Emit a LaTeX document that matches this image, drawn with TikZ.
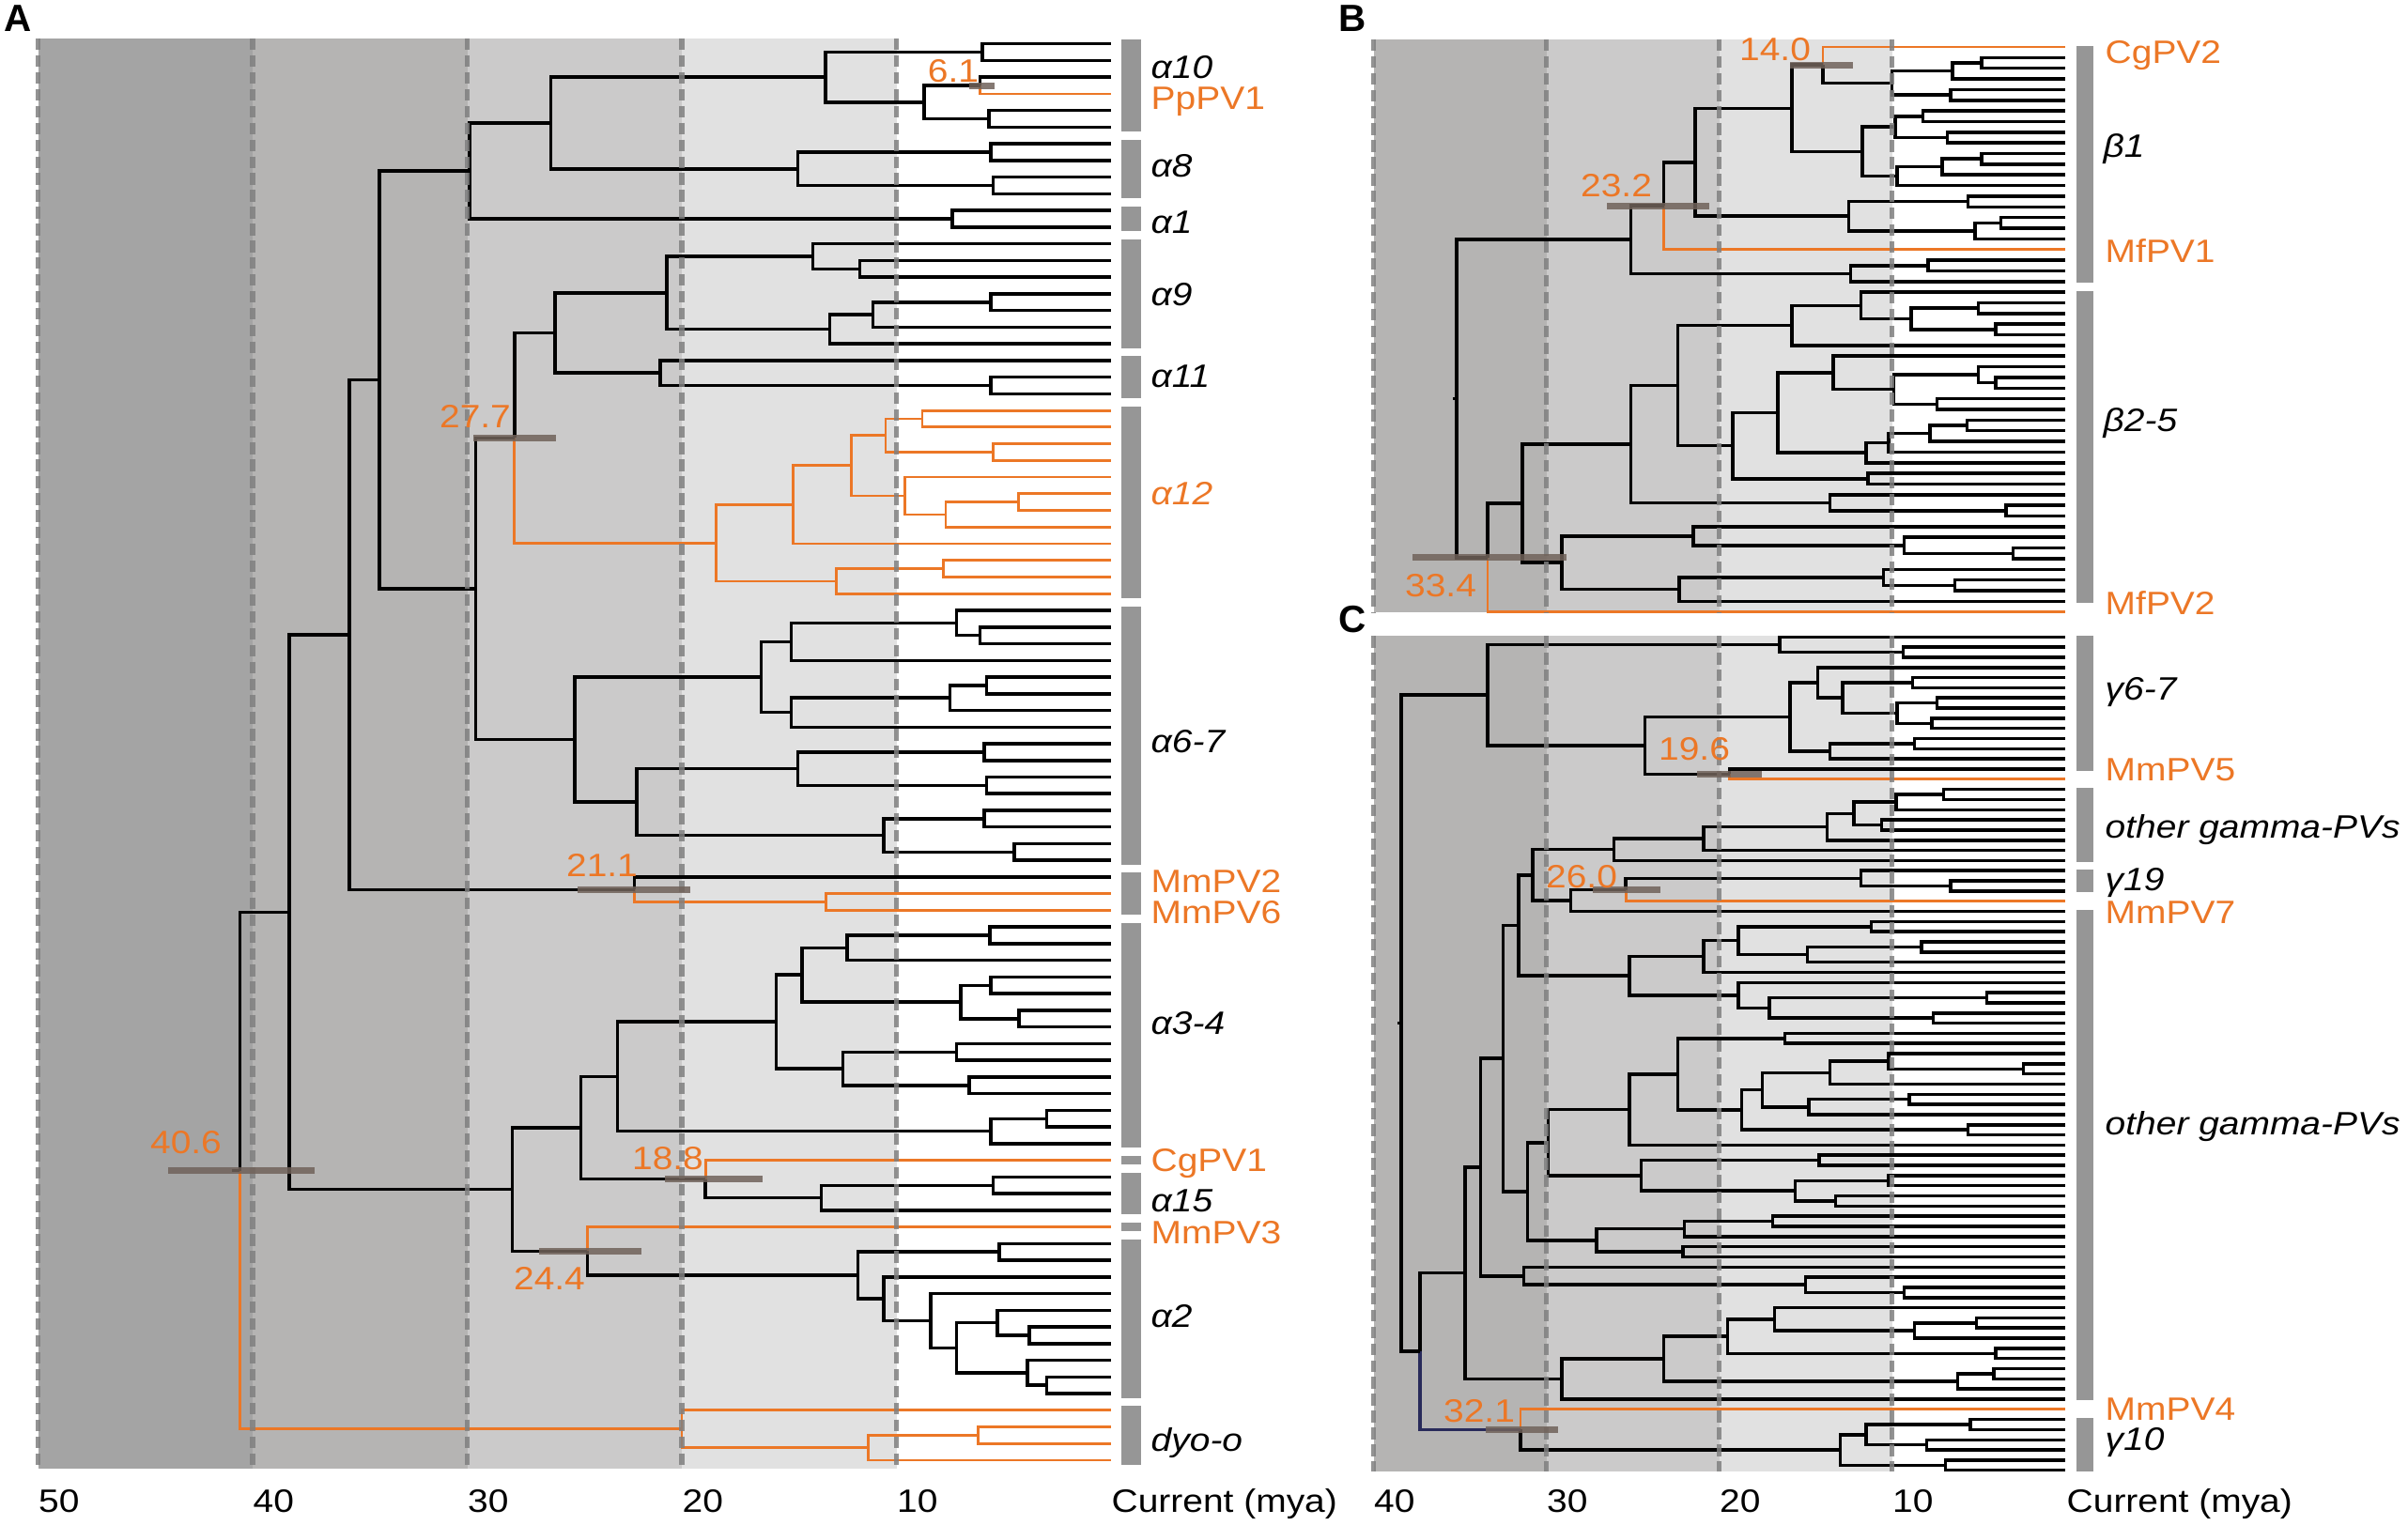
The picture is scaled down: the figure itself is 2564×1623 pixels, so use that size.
\documentclass[tikz,border=0pt]{standalone}
\usepackage{fontspec}
\setmainfont{Liberation Sans}[FakeStretch=1.13]
\newfontfamily\letterfont{Liberation Sans}
\usetikzlibrary{calc}

\definecolor{pvorange}{RGB}{236,119,38}
\definecolor{bandA}{RGB}{164,164,164}
\definecolor{bandB}{RGB}{181,180,179}
\definecolor{bandC}{RGB}{203,202,202}
\definecolor{bandD}{RGB}{225,225,225}
\definecolor{cladegray}{RGB}{150,150,150}
\definecolor{hpdbrown}{RGB}{112,98,90}
\definecolor{decadegray}{RGB}{128,128,128}
\definecolor{navyline}{RGB}{40,42,90}

% x position of an age (mya) in the current panel
\newcommand\agex[1]{\xz-#1*\xs}
% a leaf: name, row
\newcommand\lf[2]{\coordinate (#1) at (\xz,{\yz+#2*\ys});}
% an inner node: [style up][style down]{name}{age}{child up}{child down}
\NewDocumentCommand\nd{O{blk}O{blk}mmmm}{%
  \coordinate (#3m) at ($(#5)!.5!(#6)$);
  \coordinate (#3) at ({\agex{#4}},0 |- #3m);
  \draw[#1] (#3) |- (#5);
  \draw[#2] (#3) |- (#6);}
% grey clade bar over rows #1..#2
\newcommand\cbar[2]{\fill[cladegray] (\bx,{\yz+#1*\ys-\bp}) rectangle ({\bx+\bw},{\yz+#2*\ys+\bp});}

\begin{document}
\begin{tikzpicture}[x=0.01cm,y=-0.01cm]
  \tikzstyle{blk}=[line width=1pt,black]
  \tikzstyle{pvo}=[line width=0.8pt,pvorange]
  \tikzstyle{navyb}=[line width=1pt,navyline]
  \tikzstyle{decade}=[line width=1.6pt,decadegray,opacity=0.85,dash pattern=on 3.5pt off 1.6pt]
  \tikzstyle{hpd}=[line width=2pt,hpdbrown,opacity=0.85]
  \tikzstyle{lab}=[anchor=west,inner sep=0pt,text height=7pt,text depth=0pt,font=\fontsize{9.8}{11.5}\selectfont]
  \tikzstyle{clade}=[lab,font=\fontsize{9.8}{11.5}\selectfont\itshape]
  \tikzstyle{pv}=[lab,text=pvorange]
  \tikzstyle{age}=[inner sep=0pt,text height=7pt,text depth=0pt,text=pvorange,font=\fontsize{9.8}{11.5}\selectfont]
  \tikzstyle{panel}=[inner sep=0pt,font=\letterfont\fontsize{11.5}{13}\selectfont\bfseries]

  \useasboundingbox (0,0) rectangle (2564,1623);

  %%%%%%%%%%%%%%%%%%%% Panel A (alpha) %%%%%%%%%%%%%%%%%%%%
  \def\xz{1183}\def\xs{22.85}\def\yz{46.7}\def\ys{17.745}

  % Time bands
  \foreach \a/\b/\c in {50/40/bandA,40/30/bandB,30/20/bandC,20/10/bandD}
      \fill[\c] ({\agex{\a}},41) rectangle ({\agex{\b}},1564);

  % Leaves
  \foreach \i in {0,...,85}{\lf{a\i}{\i}}

  % alpha10, alpha8, alpha1
  \nd{ap01}{6.0}{a0}{a1}
  \nd[blk][pvo]{ap23}{6.1}{a2}{a3}
  \nd{ap45}{5.7}{a4}{a5}
  \nd{a2to5}{8.7}{ap23}{ap45}
  \nd{aA10}{13.3}{ap01}{a2to5}
  \nd{ap67}{5.6}{a6}{a7}
  \nd{ap89}{5.5}{a8}{a9}
  \nd{aA8}{14.6}{ap67}{ap89}
  \nd{aA108}{26.1}{aA10}{aA8}
  \nd{aA1}{7.4}{a10}{a11}
  \nd{aT1}{29.9}{aA108}{aA1}

  % alpha9, alpha11
  \nd{ap1314}{11.7}{a13}{a14}
  \nd{a12to14}{13.9}{a12}{ap1314}
  \nd{ap1516}{5.6}{a15}{a16}
  \nd{a15to17}{11.1}{ap1516}{a17}
  \nd{a15to18}{13.1}{a15to17}{a18}
  \nd{aA9}{20.7}{a12to14}{a15to18}
  \nd{ap2021}{5.6}{a20}{a21}
  \nd{aA11}{21.0}{a19}{ap2021}
  \nd{aA911}{25.9}{aA9}{aA11}

  % alpha12
  \nd[pvo][pvo]{ap2223}{8.8}{a22}{a23}
  \nd[pvo][pvo]{ap2425}{5.5}{a24}{a25}
  \nd[pvo][pvo]{a22to25}{10.5}{ap2223}{ap2425}
  \nd[pvo][pvo]{ap2728}{4.3}{a27}{a28}
  \nd[pvo][pvo]{a27to29}{7.7}{ap2728}{a29}
  \nd[pvo][pvo]{a26to29}{9.6}{a26}{a27to29}
  \nd[pvo][pvo]{a22to29}{12.1}{a22to25}{a26to29}
  \nd[pvo][pvo]{a22to30}{14.8}{a22to29}{a30}
  \nd[pvo][pvo]{ap3132}{7.8}{a31}{a32}
  \nd[pvo][pvo]{a31to33}{12.8}{ap3132}{a33}
  \nd[pvo][pvo]{aA12}{18.4}{a22to30}{a31to33}
  \nd[blk][pvo]{aN277}{27.8}{aA911}{aA12}

  % alpha6-7
  \nd{ap3536}{6.1}{a35}{a36}
  \nd{a34to36}{7.2}{a34}{ap3536}
  \nd{a34to37}{14.9}{a34to36}{a37}
  \nd{ap3839}{5.8}{a38}{a39}
  \nd{a38to40}{7.5}{ap3839}{a40}
  \nd{a38to41}{14.9}{a38to40}{a41}
  \nd{a34to41}{16.3}{a34to37}{a38to41}
  \nd{ap4243}{5.9}{a42}{a43}
  \nd{ap4445}{5.8}{a44}{a45}
  \nd{a42to45}{14.6}{ap4243}{ap4445}
  \nd{ap4647}{5.9}{a46}{a47}
  \nd{ap4849}{4.5}{a48}{a49}
  \nd{a46to49}{10.6}{ap4647}{ap4849}
  \nd{a42to49}{22.1}{a42to45}{a46to49}
  \nd{aA67}{25.0}{a34to41}{a42to49}
  \nd{aT2}{29.6}{aN277}{aA67}
  \nd{aT3}{34.1}{aT1}{aT2}

  % MmPV2, MmPV6
  \nd[pvo][pvo]{ap5152}{13.3}{a51}{a52}
  \nd[blk][pvo]{aN211}{22.2}{a50}{ap5152}
  \nd{aT4}{35.5}{aT3}{aN211}

  % alpha3-4
  \nd{ap5354}{5.65}{a53}{a54}
  \nd{a53to55}{12.3}{ap5354}{a55}
  \nd{ap5657}{5.6}{a56}{a57}
  \nd{ap5859}{4.3}{a58}{a59}
  \nd{a56to59}{7.0}{ap5657}{ap5859}
  \nd{a53to59}{14.4}{a53to55}{a56to59}
  \nd{ap6061}{7.2}{a60}{a61}
  \nd{ap6263}{6.6}{a62}{a63}
  \nd{a60to63}{12.5}{ap6061}{ap6263}
  \nd{a53to63}{15.6}{a53to59}{a60to63}
  \nd{ap6465}{3.0}{a64}{a65}
  \nd{a64to66}{5.6}{ap6465}{a66}
  \nd{aA34}{23.0}{a53to63}{a64to66}

  % CgPV1, alpha15
  \nd{ap6869}{5.5}{a68}{a69}
  \nd{aA15}{13.5}{ap6869}{a70}
  \nd[pvo][blk]{aN188}{18.9}{a67}{aA15}
  \nd{aT5}{24.7}{aA34}{aN188}

  % MmPV3, alpha2
  \nd{ap7273}{5.2}{a72}{a73}
  \nd{ap7778}{3.8}{a77}{a78}
  \nd{a76to78}{5.3}{a76}{ap7778}
  \nd{ap8081}{3.0}{a80}{a81}
  \nd{a79to81}{3.9}{a79}{ap8081}
  \nd{a76to81}{7.2}{a76to78}{a79to81}
  \nd{a75to81}{8.4}{a75}{a76to81}
  \nd{a74to81}{10.6}{a74}{a75to81}
  \nd{aA2}{11.8}{ap7273}{a74to81}
  \nd[pvo][blk]{aN244}{24.4}{a71}{aA2}
  \nd{aT6}{27.9}{aT5}{aN244}
  \nd{aT7}{38.3}{aT4}{aT6}

  % dyo-o and the root
  \nd[pvo][pvo]{ap8384}{6.2}{a83}{a84}
  \nd[pvo][pvo]{a83to85}{11.3}{ap8384}{a85}
  \nd[pvo][pvo]{aDyo}{20.0}{a82}{a83to85}
  \nd[blk][pvo]{aRoot}{40.6}{aT7}{aDyo}
  \draw[blk] (aRoot) -- ++(-8,0);

  % Decade lines and axis
  \foreach \a in {50,40,30,20,10}{
      \draw[decade] ({\agex{\a}},41) -- ({\agex{\a}},1564);
      \node[lab] (A-t\a) at ({\agex{\a}},1598) {\a};
  }
  \node[lab] (A-now) at (\xz,1598) {Current (mya)};

  % Age intervals
  \draw[hpd] (1032,0 |- ap23) -- (1059,0 |- ap23);
  \draw[hpd] (504,0 |- aN277) -- (592,0 |- aN277);
  \draw[hpd] (615,0 |- aN211) -- (735,0 |- aN211);
  \draw[hpd] (708,0 |- aN188) -- (812,0 |- aN188);
  \draw[hpd] (574,0 |- aN244) -- (683,0 |- aN244);
  \draw[hpd] (179,0 |- aRoot) -- (335,0 |- aRoot);
  \node[age] (A-n61) at (1015,75) {6.1};
  \node[age] (A-n277) at (506,443) {27.7};
  \node[age] (A-n211) at (641,921) {21.1};
  \node[age] (A-n188) at (711,1233) {18.8};
  \node[age] (A-n244) at (585,1361) {24.4};
  \node[age] (A-n406) at (198,1216) {40.6};

  % Clade bars and names
  \def\bx{1194}\def\bw{21}\def\bp{4.5}
  \cbar{0}{5}\cbar{6}{9}\cbar{10}{11}\cbar{12}{18}\cbar{19}{21}\cbar{22}{33}
  \cbar{34}{49}\cbar{50}{52}\cbar{53}{66}\cbar{67}{67}\cbar{68}{70}\cbar{71}{71}
  \cbar{72}{81}\cbar{82}{85}
  \node[clade] (A-a10) at (1225,71) {α10};
  \node[pv] (A-pp1) at (1225,104) {PpPV1};
  \node[clade] (A-a8) at (1225,176) {α8};
  \node[clade] (A-a1) at (1225,236) {α1};
  \node[clade] (A-a9) at (1225,313) {α9};
  \node[clade] (A-a11) at (1225,400) {α11};
  \node[clade,text=pvorange] (A-a12) at (1225,525) {α12};
  \node[clade] (A-a67) at (1225,789) {α6-7};
  \node[pv] (A-mm2) at (1225,938) {MmPV2};
  \node[pv] (A-mm6) at (1225,971) {MmPV6};
  \node[clade] (A-a34) at (1225,1089) {α3-4};
  \node[pv] (A-cg1) at (1225,1235) {CgPV1};
  \node[clade] (A-a15) at (1225,1278) {α15};
  \node[pv] (A-mm3) at (1225,1312) {MmPV3};
  \node[clade] (A-a2) at (1225,1401) {α2};
  \node[clade] (A-dyo) at (1225,1533) {dyo-o};
  \node[panel] (A-lab) at (19,20) {A};

  %%%%%%%%%%%%%%%%%%%% Panel B (beta) %%%%%%%%%%%%%%%%%%%%
  \def\xz{2198.5}\def\xs{18.4}\def\yz{50}\def\ys{11.353}

  \foreach \a/\b/\c in {40/30/bandB,30/20/bandC,20/10/bandD}
      \fill[\c] ({\agex{\a}},41.7) rectangle ({\agex{\b}},651.7);

  \foreach \i in {0,...,53}{\lf{b\i}{\i}}

  % beta1
  \nd{bp12}{4.8}{b1}{b2}
  \nd{b1to3}{6.5}{bp12}{b3}
  \nd{bp45}{6.6}{b4}{b5}
  \nd{b1to5}{10.0}{b1to3}{bp45}
  \nd[pvo][blk]{bN140}{14.0}{b0}{b1to5}
  \nd{bp67}{8.2}{b6}{b7}
  \nd{bp89}{6.8}{b8}{b9}
  \nd{b6to9}{9.8}{bp67}{bp89}
  \nd{bp1011}{4.8}{b10}{b11}
  \nd{b10to12}{7.1}{bp1011}{b12}
  \nd{b10to13}{9.7}{b10to12}{b13}
  \nd{b6to13}{11.7}{b6to9}{b10to13}
  \nd{b0to13}{15.8}{bN140}{b6to13}
  \nd{bp1415}{5.6}{b14}{b15}
  \nd{bp1617}{3.7}{b16}{b17}
  \nd{b16to18}{5.2}{bp1617}{b18}
  \nd{b14to18}{12.5}{bp1415}{b16to18}
  \nd{b0to18}{21.4}{b0to13}{b14to18}
  \nd[blk][pvo]{bN232}{23.2}{b0to18}{b19}
  \nd{bp2021}{7.9}{b20}{b21}
  \nd{b20to22}{12.4}{bp2021}{b22}
  \nd{bB1}{25.1}{bN232}{b20to22}

  % beta2-5
  \nd{bp2425}{5.0}{b24}{b25}
  \nd{bp2627}{4.0}{b26}{b27}
  \nd{b24to27}{8.9}{bp2425}{bp2627}
  \nd{b23to27}{11.8}{b23}{b24to27}
  \nd{b23to28}{15.8}{b23to27}{b28}
  \nd{bp3132}{4.0}{b31}{b32}
  \nd{b30to32}{5.0}{b30}{bp3132}
  \nd{bp3334}{7.4}{b33}{b34}
  \nd{b30to34}{9.9}{b30to32}{bp3334}
  \nd{b29to34}{13.4}{b29}{b30to34}
  \nd{bp3536}{5.65}{b35}{b36}
  \nd{b35to37}{7.8}{bp3536}{b37}
  \nd{b35to38}{10.2}{b35to37}{b38}
  \nd{b35to39}{11.5}{b35to38}{b39}
  \nd{b29to39}{16.6}{b29to34}{b35to39}
  \nd{bp4041}{11.4}{b40}{b41}
  \nd{b29to41}{19.2}{b29to39}{bp4041}
  \nd{b23to41}{22.4}{b23to28}{b29to41}
  \nd{bp4344}{3.4}{b43}{b44}
  \nd{b42to44}{13.6}{b42}{bp4344}
  \nd{b23to44}{25.1}{b23to41}{b42to44}
  \nd{bp4748}{3.0}{b47}{b48}
  \nd{b46to48}{9.3}{b46}{bp4748}
  \nd{b45to48}{21.5}{b45}{b46to48}
  \nd{bp5051}{6.35}{b50}{b51}
  \nd{b49to51}{10.5}{b49}{bp5051}
  \nd{b49to52}{22.3}{b49to51}{b52}
  \nd{b45to52}{29.1}{b45to48}{b49to52}
  \nd{bB25}{31.4}{b23to44}{b45to52}
  \nd[blk][pvo]{bN334}{33.4}{bB25}{b53}
  \nd{bRoot}{35.2}{bB1}{bN334}
  \draw[blk] (bRoot) -- ++(-4,0);

  \foreach \a in {40,30,20,10}
      \draw[decade] ({\agex{\a}},41.7) -- ({\agex{\a}},651.7);

  \draw[hpd] (1906,0 |- bN140) -- (1973,0 |- bN140);
  \draw[hpd] (1711,0 |- bN232) -- (1820,0 |- bN232);
  \draw[hpd] (1504,0 |- bN334) -- (1668,0 |- bN334);
  \node[age] (B-n140) at (1890,52) {14.0};
  \node[age] (B-n232) at (1721,197) {23.2};
  \node[age] (B-n334) at (1534,623) {33.4};

  \def\bx{2211}\def\bw{18}\def\bp{1.5}
  \cbar{0}{22}\cbar{23}{52}
  \node[pv] (B-cg2) at (2241,55) {CgPV2};
  \node[clade] (B-b1) at (2239,155) {β1};
  \node[pv] (B-mf1) at (2241,267) {MfPV1};
  \node[clade] (B-b25) at (2239,447) {β2-5};
  \node[pv] (B-mf2) at (2241,642) {MfPV2};
  \node[panel] (B-lab) at (1440,20) {B};

  %%%%%%%%%%%%%%%%%%%% Panel C (gamma) %%%%%%%%%%%%%%%%%%%%
  \def\yz{678.3}\def\ys{10.822}

  \foreach \a/\b/\c in {40/30/bandB,30/20/bandC,20/10/bandD}
      \fill[\c] ({\agex{\a}},677.3) rectangle ({\agex{\b}},1567);

  \foreach \i in {0,...,82}{\lf{c\i}{\i}}

  % gamma6-7 and MmPV5
  \nd{cp12}{9.35}{c1}{c2}
  \nd{c0to2}{16.5}{c0}{cp12}
  \nd{cp45}{8.8}{c4}{c5}
  \nd{cp67}{7.4}{c6}{c7}
  \nd{cp89}{7.7}{c8}{c9}
  \nd{c6to9}{9.7}{cp67}{cp89}
  \nd{c4to9}{12.85}{cp45}{c6to9}
  \nd{c3to9}{14.3}{c3}{c4to9}
  \nd{cp1011}{8.7}{c10}{c11}
  \nd{c10to12}{13.6}{cp1011}{c12}
  \nd{c3to12}{15.9}{c3to9}{c10to12}
  \nd[blk][pvo]{cN196}{19.4}{c13}{c14}
  \nd{c3to14}{24.3}{c3to12}{cN196}
  \nd{cG67}{33.4}{c0to2}{c3to14}

  % other gamma-PVs, gamma19, MmPV7
  \nd{cp1516}{7.0}{c15}{c16}
  \nd{c15to17}{9.75}{cp1516}{c17}
  \nd{cp1819}{10.6}{c18}{c19}
  \nd{c15to19}{12.2}{c15to17}{cp1819}
  \nd{c15to20}{13.75}{c15to19}{c20}
  \nd{c15to21}{20.9}{c15to20}{c21}
  \nd{c15to22}{26.1}{c15to21}{c22}
  \nd{cp2425}{6.6}{c24}{c25}
  \nd{cG19}{11.8}{c23}{cp2425}
  \nd[blk][pvo]{cN260}{25.4}{cG19}{c26}
  \nd{c23to27}{28.6}{cN260}{c27}
  \nd{c15to27}{30.8}{c15to22}{c23to27}
  \nd{cp2829}{11.2}{c28}{c29}
  \nd{cp3031}{8.3}{c30}{c31}
  \nd{c30to32}{14.9}{cp3031}{c32}
  \nd{c28to32}{18.9}{cp2829}{c30to32}
  \nd{c28to33}{20.9}{c28to32}{c33}
  \nd{cp3536}{4.5}{c35}{c36}
  \nd{cp3738}{7.6}{c37}{c38}
  \nd{c35to38}{17.1}{cp3536}{cp3738}
  \nd{c34to38}{18.9}{c34}{c35to38}
  \nd{c28to38}{25.2}{c28to33}{c34to38}
  \nd{c15to38}{31.6}{c15to27}{c28to38}
  \nd{cp3940}{16.2}{c39}{c40}
  \nd{cp4243}{2.4}{c42}{c43}
  \nd{c41to43}{10.2}{c41}{cp4243}
  \nd{c41to44}{13.6}{c41to43}{c44}
  \nd{cp4546}{9.0}{c45}{c46}
  \nd{c45to47}{14.8}{cp4546}{c47}
  \nd{c41to47}{17.5}{c41to44}{c45to47}
  \nd{cp4849}{5.6}{c48}{c49}
  \nd{c41to49}{18.7}{c41to47}{cp4849}
  \nd{c39to49}{22.4}{cp3940}{c41to49}
  \nd{c39to50}{25.2}{c39to49}{c50}
  \nd{cp5152}{14.2}{c51}{c52}
  \nd{cp5354}{10.2}{c53}{c54}
  \nd{cp5556}{13.25}{c55}{c56}
  \nd{c53to56}{15.6}{cp5354}{cp5556}
  \nd{c51to56}{24.5}{cp5152}{c53to56}
  \nd{c39to56}{29.9}{c39to50}{c51to56}
  \nd{cp5758}{16.9}{c57}{c58}
  \nd{c57to59}{22.0}{cp5758}{c59}
  \nd{cp6061}{22.1}{c60}{c61}
  \nd{c57to61}{27.1}{c57to59}{cp6061}
  \nd{c39to61}{31.1}{c39to56}{c57to61}
  \nd{c15to61}{32.5}{c15to38}{c39to61}
  \nd{cp6465}{9.3}{c64}{c65}
  \nd{c63to65}{15.0}{c63}{cp6465}
  \nd{c62to65}{31.3}{c62}{c63to65}
  \nd{c15to65}{33.8}{c15to61}{c62to65}
  \nd{cp6768}{5.1}{c67}{c68}
  \nd{c67to69}{8.7}{cp6768}{c69}
  \nd{c66to69}{16.8}{c66}{c67to69}
  \nd{cp7071}{4.0}{c70}{c71}
  \nd{c66to71}{19.5}{c66to69}{cp7071}
  \nd{cp7273}{4.1}{c72}{c73}
  \nd{c72to74}{6.2}{cp7273}{c74}
  \nd{c66to74}{23.2}{c66to71}{c72to74}
  \nd{c66to75}{29.1}{c66to74}{c75}
  \nd{c15to75}{34.7}{c15to65}{c66to75}

  % MmPV4, gamma10 and the root
  \nd{cp7778}{5.45}{c77}{c78}
  \nd{cp7980}{8.0}{c79}{c80}
  \nd{c77to80}{11.5}{cp7778}{cp7980}
  \nd{cp8182}{6.9}{c81}{c82}
  \nd{cG10}{13.0}{c77to80}{cp8182}
  \nd[pvo][blk]{cN321}{31.5}{c76}{cG10}
  \nd[blk][navyb]{c15to82}{37.3}{c15to75}{cN321}
  \nd{cRoot}{38.4}{cG67}{c15to82}
  \draw[blk] (cRoot) -- ++(-4,0);

  \foreach \a in {40,30,20,10}{
      \draw[decade] ({\agex{\a}},677.3) -- ({\agex{\a}},1567);
      \node[lab] (C-t\a) at ({\agex{\a}},1598) {\a};
  }
  \node[lab] (C-now) at (2200,1598) {Current (mya)};

  \draw[hpd] (1807,0 |- cN196) -- (1876,0 |- cN196);
  \draw[hpd] (1696,0 |- cN260) -- (1768,0 |- cN260);
  \draw[hpd] (1582,0 |- cN321) -- (1659,0 |- cN321);
  \node[age] (C-n196) at (1804,797) {19.6};
  \node[age] (C-n260) at (1684,933) {26.0};
  \node[age] (C-n321) at (1575,1502) {32.1};

  \cbar{0}{13}\cbar{15}{22}\cbar{23}{25}\cbar{27}{75}\cbar{77}{82}
  \node[clade] (C-g67) at (2241,733) {γ6-7};
  \node[pv] (C-mm5) at (2241,819) {MmPV5};
  \node[clade] (C-o1) at (2241,880) {other gamma-PVs};
  \node[clade] (C-g19) at (2241,936) {γ19};
  \node[pv] (C-mm7) at (2241,971) {MmPV7};
  \node[clade] (C-o2) at (2241,1196) {other gamma-PVs};
  \node[pv] (C-mm4) at (2241,1500) {MmPV4};
  \node[clade] (C-g10) at (2241,1532) {γ10};
  \node[panel] (C-lab) at (1440,660) {C};
\end{tikzpicture}
\end{document}
